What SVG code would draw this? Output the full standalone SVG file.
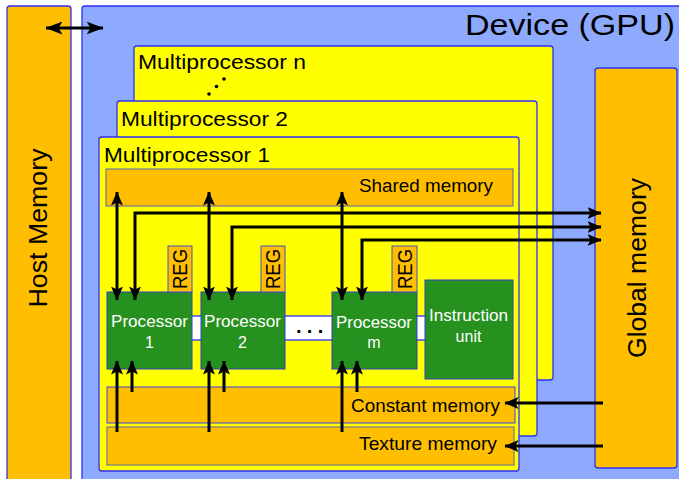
<svg xmlns="http://www.w3.org/2000/svg" width="679" height="479" viewBox="0 0 679 479">
<style>
text{font-family:"Liberation Sans",Arial,sans-serif;fill:#000}
.org{fill:#FFBF00;stroke:#2F2FFF;stroke-width:1.3}
.yel{fill:#FFFF00;stroke:#2F2FFF;stroke-width:1.3}
.grn{fill:#27911F;stroke:#2F3FCF;stroke-width:1}
.wt{fill:#FFFFFF}
.ln{fill:none;stroke:#000;stroke-width:3}
</style>
<defs>
<marker id="ah" viewBox="0 0 14 12" refX="13.5" refY="6" markerWidth="14" markerHeight="12" orient="auto-start-reverse" markerUnits="userSpaceOnUse">
<path d="M0,0 L14,6 L0,12 L3,6 z" fill="#000"/>
</marker>
<marker id="ahb" viewBox="0 0 17 13" refX="16.5" refY="6.5" markerWidth="17" markerHeight="13" orient="auto-start-reverse" markerUnits="userSpaceOnUse">
<path d="M0,0 L17,6.5 L0,13 L4,6.5 z" fill="#000"/>
</marker>
</defs>
<rect width="679" height="479" fill="#FFFFFF"/>

<g id="host-memory">
<rect class="org" x="7" y="6" width="64" height="490" rx="3"/>
<text transform="translate(47,228) rotate(-90)" font-size="26" text-anchor="middle" textLength="159" lengthAdjust="spacingAndGlyphs">Host Memory</text>
</g>

<g id="device">
<rect x="82" y="6" width="620" height="490" rx="3" fill="#8EAAFF" stroke="#2F2FFF" stroke-width="1.3"/>
<text x="465" y="35" font-size="30" textLength="210" lengthAdjust="spacingAndGlyphs">Device (GPU)</text>
</g>

<g id="multiprocessor-n">
<rect class="yel" x="134" y="46" width="419" height="334" rx="3"/>
<text x="138" y="69" font-size="20" textLength="168" lengthAdjust="spacingAndGlyphs">Multiprocessor n</text>
<circle cx="209" cy="94" r="1.8"/>
<circle cx="216.5" cy="86.5" r="1.8"/>
<circle cx="224" cy="79" r="1.8"/>
</g>

<g id="multiprocessor-2">
<rect class="yel" x="117" y="101" width="420" height="335" rx="3"/>
<text x="121" y="126" font-size="20" textLength="167" lengthAdjust="spacingAndGlyphs">Multiprocessor 2</text>
</g>

<g id="multiprocessor-1">
<rect class="yel" x="99" y="137" width="420" height="334" rx="3"/>
<text x="104" y="162" font-size="20" textLength="166" lengthAdjust="spacingAndGlyphs">Multiprocessor 1</text>
</g>

<g id="global-memory">
<rect class="org" x="595" y="68" width="82" height="400" rx="3"/>
<text transform="translate(646,268) rotate(-90)" font-size="26" text-anchor="middle" textLength="180" lengthAdjust="spacingAndGlyphs">Global memory</text>
</g>

<g id="shared-memory">
<rect x="106" y="169" width="407" height="37" fill="#FFBF00" stroke="#5565C0" stroke-width="1"/>
<text x="359" y="192" font-size="19" textLength="134" lengthAdjust="spacingAndGlyphs">Shared memory</text>
</g>

<g id="interconnect">
<rect x="190" y="316" width="237" height="24" class="wt" stroke="#2F2FFF" stroke-width="1.3"/>
<text x="296" y="333" font-size="20" font-weight="bold" letter-spacing="5.3">...</text>
</g>

<g id="processor-1">
<rect class="grn" x="107" y="292" width="85" height="77"/>
<text x="149.5" y="327" font-size="16" text-anchor="middle" style="fill:#fff" textLength="77" lengthAdjust="spacingAndGlyphs">Processor</text>
<text x="149.5" y="348" font-size="16" text-anchor="middle" style="fill:#fff">1</text>
</g>
<g id="reg-1">
<rect x="168" y="246" width="24" height="46" fill="#FFBF00" stroke="#3F4FCF" stroke-width="1"/>
<text transform="translate(187,269) rotate(-90)" font-size="20" text-anchor="middle" textLength="40" lengthAdjust="spacingAndGlyphs">REG</text>
</g>

<g id="processor-2">
<rect class="grn" x="201" y="292" width="84" height="77"/>
<text x="242.5" y="327" font-size="16" text-anchor="middle" style="fill:#fff" textLength="77" lengthAdjust="spacingAndGlyphs">Processor</text>
<text x="242.5" y="348" font-size="16" text-anchor="middle" style="fill:#fff">2</text>
</g>
<g id="reg-2">
<rect x="261" y="246" width="24" height="46" fill="#FFBF00" stroke="#3F4FCF" stroke-width="1"/>
<text transform="translate(280,269) rotate(-90)" font-size="20" text-anchor="middle" textLength="40" lengthAdjust="spacingAndGlyphs">REG</text>
</g>

<g id="processor-m">
<rect class="grn" x="332" y="292" width="85" height="77"/>
<text x="374" y="328" font-size="16" text-anchor="middle" style="fill:#fff" textLength="76" lengthAdjust="spacingAndGlyphs">Processor</text>
<text x="374" y="348" font-size="16" text-anchor="middle" style="fill:#fff">m</text>
</g>
<g id="reg-m">
<rect x="392" y="246" width="25" height="46" fill="#FFBF00" stroke="#3F4FCF" stroke-width="1"/>
<text transform="translate(411.5,269) rotate(-90)" font-size="20" text-anchor="middle" textLength="40" lengthAdjust="spacingAndGlyphs">REG</text>
</g>

<g id="instruction-unit">
<rect class="grn" x="425" y="280" width="88" height="99"/>
<text x="468.5" y="321" font-size="16" text-anchor="middle" style="fill:#fff" textLength="79" lengthAdjust="spacingAndGlyphs">Instruction</text>
<text x="468.5" y="342" font-size="16" text-anchor="middle" style="fill:#fff">unit</text>
</g>

<g id="constant-memory">
<rect x="107" y="387" width="408" height="36" fill="#FFBF00" stroke="#3F3FEF" stroke-width="1"/>
<text x="351" y="412" font-size="19" textLength="149" lengthAdjust="spacingAndGlyphs">Constant memory</text>
</g>

<g id="texture-memory">
<rect x="107" y="427" width="407" height="38" fill="#FFBF00" stroke="#808080" stroke-width="1.3"/>
<text x="359" y="450" font-size="19" textLength="138" lengthAdjust="spacingAndGlyphs">Texture memory</text>
</g>

<g id="connectors">
<line class="ln" x1="46" y1="28" x2="103" y2="28" marker-start="url(#ahb)" marker-end="url(#ahb)"/>
<line class="ln" x1="117" y1="192" x2="117" y2="300" marker-start="url(#ah)" marker-end="url(#ah)"/>
<line class="ln" x1="209" y1="192" x2="209" y2="300" marker-start="url(#ah)" marker-end="url(#ah)"/>
<line class="ln" x1="342" y1="192" x2="342" y2="300" marker-start="url(#ah)" marker-end="url(#ah)"/>
<polyline class="ln" points="135,300 135,213 601,213" marker-start="url(#ah)" marker-end="url(#ah)"/>
<polyline class="ln" points="232,300 232,227 601,227" marker-start="url(#ah)" marker-end="url(#ah)"/>
<polyline class="ln" points="362,300 362,240 601,240" marker-start="url(#ah)" marker-end="url(#ah)"/>
<line class="ln" x1="117" y1="432" x2="117" y2="361" marker-end="url(#ah)"/>
<line class="ln" x1="132" y1="392" x2="132" y2="361" marker-end="url(#ah)"/>
<line class="ln" x1="209" y1="432" x2="209" y2="361" marker-end="url(#ah)"/>
<line class="ln" x1="224" y1="392" x2="224" y2="361" marker-end="url(#ah)"/>
<line class="ln" x1="342" y1="432" x2="342" y2="361" marker-end="url(#ah)"/>
<line class="ln" x1="357" y1="392" x2="357" y2="361" marker-end="url(#ah)"/>
<line class="ln" x1="603" y1="403" x2="505" y2="403" marker-end="url(#ah)"/>
<line class="ln" x1="603" y1="446" x2="505" y2="446" marker-end="url(#ah)"/>
</g>
</svg>
